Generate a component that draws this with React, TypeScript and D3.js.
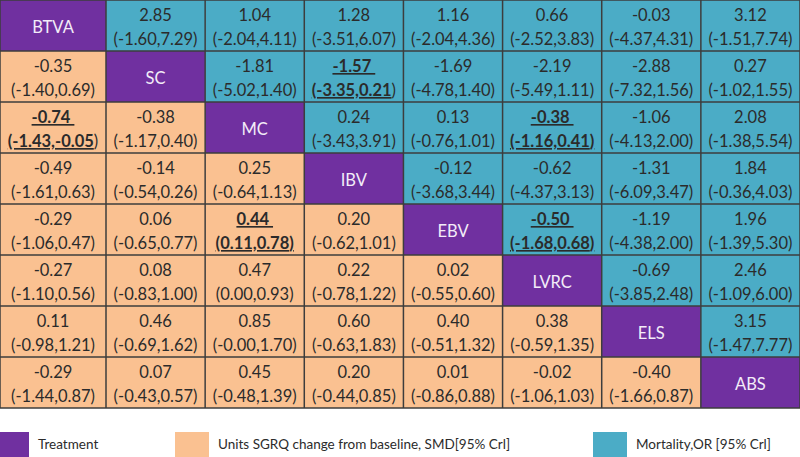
import React from "react";
import * as d3 from "d3";

const treatments = ["BTVA", "SC", "MC", "IBV", "EBV", "LVRC", "ELS", "ABS"];

// Upper triangle: Mortality, OR [95% CrI]  (row i, columns i+1..7)
const mortEst = [
  ["2.85", "1.04", "1.28", "1.16", "0.66", "-0.03", "3.12"],
  ["-1.81", "-1.57", "-1.69", "-2.19", "-2.88", "0.27"],
  ["0.24", "0.13", "-0.38", "-1.06", "2.08"],
  ["-0.12", "-0.62", "-1.31", "1.84"],
  ["-0.50", "-1.19", "1.96"],
  ["-0.69", "2.46"],
  ["3.15"],
];
const mortLo = [
  ["-1.60", "-2.04", "-3.51", "-2.04", "-2.52", "-4.37", "-1.51"],
  ["-5.02", "-3.35", "-4.78", "-5.49", "-7.32", "-1.02"],
  ["-3.43", "-0.76", "-1.16", "-4.13", "-1.38"],
  ["-3.68", "-4.37", "-6.09", "-0.36"],
  ["-1.68", "-4.38", "-1.39"],
  ["-3.85", "-1.09"],
  ["-1.47"],
];
const mortHi = [
  ["7.29", "4.11", "6.07", "4.36", "3.83", "4.31", "7.74"],
  ["1.40", "0.21", "1.40", "1.11", "1.56", "1.55"],
  ["3.91", "1.01", "0.41", "2.00", "5.54"],
  ["3.44", "3.13", "3.47", "4.03"],
  ["0.68", "2.00", "5.30"],
  ["2.48", "6.00"],
  ["7.77"],
];
// significant mortality cells: [row, col]
const mortSig = [[1, 3], [2, 5], [4, 5]];

// Lower triangle: Units SGRQ change from baseline, SMD [95% CrI] (row i, columns 0..i-1)
const sgrqEst = [
  [],
  ["-0.35"],
  ["-0.74", "-0.38"],
  ["-0.49", "-0.14", "0.25"],
  ["-0.29", "0.06", "0.44", "0.20"],
  ["-0.27", "0.08", "0.47", "0.22", "0.02"],
  ["0.11", "0.46", "0.85", "0.60", "0.40", "0.38"],
  ["-0.29", "0.07", "0.45", "0.20", "0.01", "-0.02", "-0.40"],
];
const sgrqLo = [
  [],
  ["-1.40"],
  ["-1.43", "-1.17"],
  ["-1.61", "-0.54", "-0.64"],
  ["-1.06", "-0.65", "0.11", "-0.62"],
  ["-1.10", "-0.83", "0.00", "-0.78", "-0.55"],
  ["-0.98", "-0.69", "-0.00", "-0.63", "-0.51", "-0.59"],
  ["-1.44", "-0.43", "-0.48", "-0.44", "-0.86", "-1.06", "-1.66"],
];
const sgrqHi = [
  [],
  ["0.69"],
  ["-0.05", "0.40"],
  ["0.63", "0.26", "1.13"],
  ["0.47", "0.77", "0.78", "1.01"],
  ["0.56", "1.00", "0.93", "1.22", "0.60"],
  ["1.21", "1.62", "1.70", "1.83", "1.32", "1.35"],
  ["0.87", "0.57", "1.39", "0.85", "0.88", "1.03", "0.87"],
];
const sgrqSig = [[2, 0], [4, 2]];
// cells where the closing bracket is not part of the bold/underlined run
const plainCloseParen = [[1, 3], [2, 0]];

const legendLabels = [
  "Treatment",
  "Units SGRQ change from baseline, SMD[95% Crl]",
  "Mortality,OR [95% Crl]",
];

const W = 800;
const H = 457;
const PURPLE = "#7030a0";
const ORANGE = "#fac191";
const BLUE = "#4bacc6";
const BORDER = "#3d3d3d";
const TEXT = "#2b2b2b";
const FONT = "Lato, 'Open Sans', sans-serif";
const FS = 16.5;

type Cell = {
  r: number;
  c: number;
  kind: "t" | "s" | "m";
  est?: string;
  lo?: string;
  hi?: string;
  sig?: boolean;
  plainClose?: boolean;
};

const has = (arr: number[][], r: number, c: number) => arr.some(([a, b]) => a === r && b === c);

export default function App() {
  const n = treatments.length;
  const firstW = 106;
  const colScale = d3.scaleBand<number>().domain(d3.range(1, n)).range([firstW, W]);
  const rowScale = d3.scaleBand<number>().domain(d3.range(n)).range([0, 408]);
  const cx = (c: number) => (c === 0 ? 0 : (colScale(c) as number));
  const cw = (c: number) => (c === 0 ? firstW : colScale.bandwidth());
  const rh = rowScale.bandwidth();

  const cells: Cell[] = [];
  for (let r = 0; r < n; r++) {
    for (let c = 0; c < n; c++) {
      if (r === c) cells.push({ r, c, kind: "t" });
      else if (c > r) {
        const k = c - r - 1;
        cells.push({ r, c, kind: "m", est: mortEst[r][k], lo: mortLo[r][k], hi: mortHi[r][k], sig: has(mortSig, r, c), plainClose: has(plainCloseParen, r, c) });
      } else {
        cells.push({ r, c, kind: "s", est: sgrqEst[r][c], lo: sgrqLo[r][c], hi: sgrqHi[r][c], sig: has(sgrqSig, r, c), plainClose: has(plainCloseParen, r, c) });
      }
    }
  }

  const fill = (k: string) => (k === "t" ? PURPLE : k === "s" ? ORANGE : BLUE);

  const legendX = [0, 175, 593];
  const legendColors = [PURPLE, ORANGE, BLUE];

  return (
    <svg width={W} height={H} style={{ position: "absolute", left: 0, top: 0, background: "#fff" }} fontFamily={FONT}>
      {cells.map((d) => {
        const x = cx(d.c);
        const y = rowScale(d.r) as number;
        const w = cw(d.c);
        const mid = x + w / 2;
        return (
          <g key={`${d.r}-${d.c}`}>
            <rect x={x} y={y} width={w} height={rh} fill={fill(d.kind)} />
            {d.kind === "t" ? (
              <text x={mid} y={y + rh / 2 + 7} textAnchor="middle" fontSize={FS} fill="#f3ecf8">
                {treatments[d.r]}
              </text>
            ) : d.sig ? (
              <>
                <text x={mid} y={y + 21} textAnchor="middle" fontSize={FS} fill={TEXT} fontWeight="bold" textDecoration="underline" style={{ whiteSpace: "pre" }}>
                  {d.est + " "}
                </text>
                <text x={mid} y={y + 45} textAnchor="middle" fontSize={FS} fill={TEXT}>
                  <tspan fontWeight="bold" textDecoration="underline">{`(${d.lo},${d.hi}`}</tspan>
                  {d.plainClose ? (
                    <tspan>)</tspan>
                  ) : (
                    <tspan fontWeight="bold" textDecoration="underline">)</tspan>
                  )}
                </text>
              </>
            ) : (
              <>
                <text x={mid} y={y + 21} textAnchor="middle" fontSize={FS} fill={TEXT}>
                  {d.est}
                </text>
                <text x={mid} y={y + 45} textAnchor="middle" fontSize={FS} fill={TEXT}>
                  {`(${d.lo},${d.hi})`}
                </text>
              </>
            )}
          </g>
        );
      })}
      {/* grid lines */}
      {d3.range(n + 1).map((i) => {
        const x = i === n ? W : cx(i);
        return <line key={`v${i}`} x1={x} x2={x} y1={0} y2={408} stroke={BORDER} strokeWidth={1.5} />;
      })}
      {d3.range(n + 1).map((i) => {
        const y = i === n ? 408 : (rowScale(i) as number);
        return <line key={`h${i}`} x1={0} x2={W} y1={y} y2={y} stroke={BORDER} strokeWidth={1.5} />;
      })}
      {/* legend */}
      {legendLabels.map((lab, i) => (
        <g key={lab}>
          <rect x={legendX[i]} y={432} width={i === 0 ? 29 : 34} height={25} fill={legendColors[i]} />
          <text x={legendX[i] + (i === 0 ? 38 : 43)} y={449} fontSize={13.5} fill={TEXT}>
            {lab}
          </text>
        </g>
      ))}
    </svg>
  );
}
